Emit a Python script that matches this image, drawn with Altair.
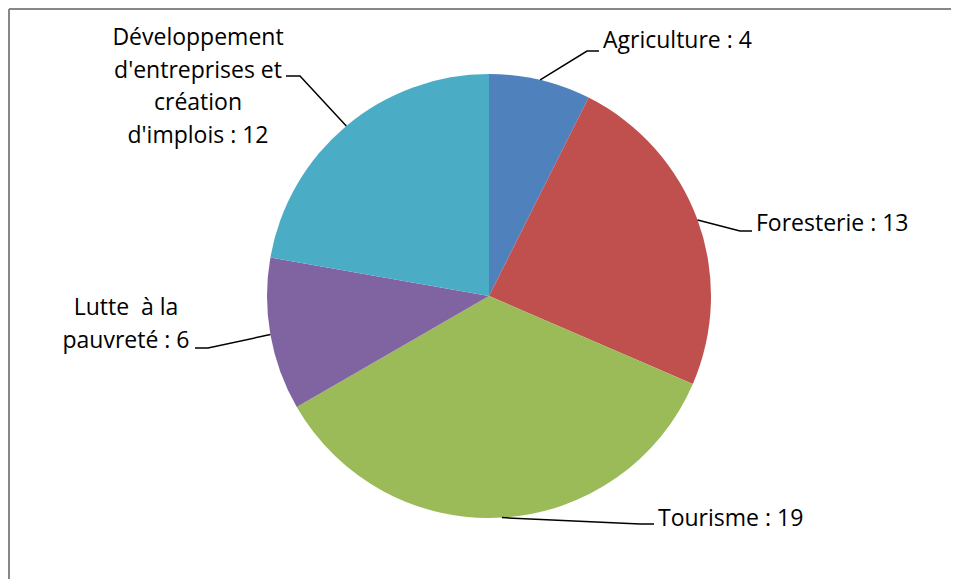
import math
import altair as alt
import pandas as pd

# ---- data ----
categories = ["Agriculture", "Foresterie", "Tourisme", "Lutte  à la pauvreté",
              "Développement d'entreprises et création d'implois"]
values = [4, 13, 19, 6, 12]
colors = ["#4F81BD", "#C0504D", "#9BBB59", "#8064A2", "#4BACC6"]
label_texts = ["Agriculture : 4", "Foresterie : 13", "Tourisme : 19",
               "Lutte\u00a0 à la\npauvreté : 6",
               "Développement\nd'entreprises et\ncréation\nd'implois : 12"]

# ---- layout (page pixels) ----
W, H = 943, 571
CX, CY, R = 489, 296, 222
label_pos = [(603, 48), (756, 231), (658, 526), (126, 315), (198, 45)]
label_align = ["left", "left", "left", "center", "center"]
elbows = [(587, 51), (740, 231), (640, 524), (208, 348), (300, 76)]
ends = [(599, 51), (752, 231), (654, 524), (195, 348), (286, 76)]

total = sum(values)
pie_df = pd.DataFrame({"cat": categories, "value": values, "idx": range(len(values))})

# leader lines: start at slice mid-angle on the rim
rows = []
cum = 0
for i, v in enumerate(values):
    mid = (cum + v / 2) / total * 2 * math.pi
    cum += v
    sx = CX + R * math.sin(mid)
    sy = CY - R * math.cos(mid)
    pts = [(sx, sy), elbows[i], ends[i]]
    for k, (px, py) in enumerate(pts):
        rows.append({"cat": categories[i], "o": k, "x": px, "y": py})
lines_df = pd.DataFrame(rows)

lab_df = pd.DataFrame({
    "cat": categories, "text": label_texts,
    "x": [p[0] for p in label_pos], "y": [p[1] for p in label_pos],
    "align": label_align,
})

frame_df = pd.DataFrame({"x": [9, 9], "x2": [960, 9], "y": [9, 9], "y2": [9, 590]})

xs = alt.Scale(domain=[8, 8 + W])
ys = alt.Scale(domain=[8, 8 + H], reverse=True)

pie = alt.Chart(pie_df).mark_arc(outerRadius=R, stroke=None).encode(
    theta=alt.Theta("value:Q", stack=True),
    order=alt.Order("idx:Q"),
    color=alt.Color("cat:N", scale=alt.Scale(domain=categories, range=colors), legend=None),
    x=alt.value(CX - 8),
    y=alt.value(CY - 8),
)

leaders = alt.Chart(lines_df).mark_line(color="black", strokeWidth=1.5).encode(
    x=alt.X("x:Q", scale=xs, axis=None),
    y=alt.Y("y:Q", scale=ys, axis=None),
    detail="cat:N",
    order="o:Q",
)

txt_left = alt.Chart(lab_df[lab_df["align"] == "left"]).mark_text(
    align="left", baseline="alphabetic", font="Open Sans", fontSize=23,
    color="black", lineBreak="\n", lineHeight=33,
).encode(x=alt.X("x:Q", scale=xs, axis=None), y=alt.Y("y:Q", scale=ys, axis=None), text="text:N")

txt_center = alt.Chart(lab_df[lab_df["align"] == "center"]).mark_text(
    align="center", baseline="alphabetic", font="Open Sans", fontSize=23,
    color="black", lineBreak="\n", lineHeight=32.5,
).encode(x=alt.X("x:Q", scale=xs, axis=None), y=alt.Y("y:Q", scale=ys, axis=None), text="text:N")

frame = alt.Chart(frame_df).mark_rule(color="#878787", strokeWidth=2).encode(
    x=alt.X("x:Q", scale=xs, axis=None), x2="x2:Q",
    y=alt.Y("y:Q", scale=ys, axis=None), y2="y2:Q",
)

chart = alt.layer(frame, pie, leaders, txt_left, txt_center).properties(
    width=W, height=H, padding=0, autosize=alt.AutoSizeParams(type="none"),
    background="white",
).configure_view(stroke=None)

chart.save("out.html", embed_options={"renderer": "svg", "actions": False})
